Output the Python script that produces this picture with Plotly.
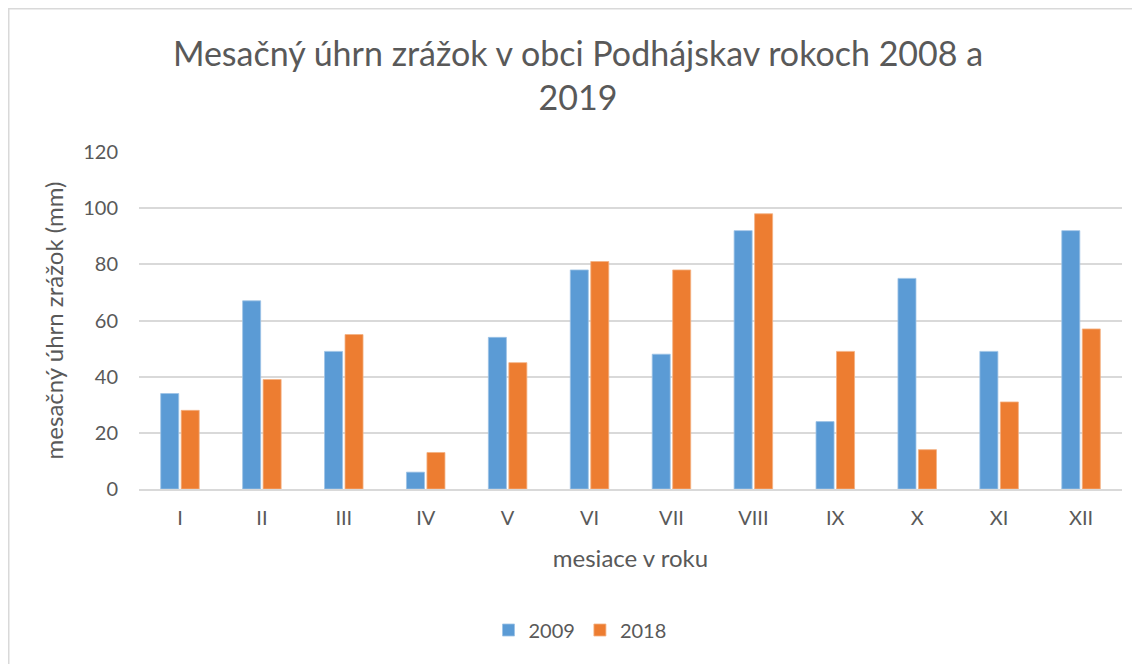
# Monthly precipitation in Podhájska, grouped bar chart

import plotly.graph_objects as go

months = ['I', 'II', 'III', 'IV', 'V', 'VI', 'VII', 'VIII', 'IX', 'X', 'XI', 'XII']
rain_2009 = [34, 67, 49, 6, 54, 78, 48, 92, 24, 75, 49, 92]
rain_2018 = [28, 39, 55, 13, 45, 81, 78, 98, 49, 14, 31, 57]
y_ticks = [0, 20, 40, 60, 80, 100, 120]

font = 'Lato'
text_col = '#595959'

# plot area in figure pixels (the page adds an 8px body margin)
left, right, top, bottom = 131, 1114, 144, 481
pw, ph = right - left, bottom - top

fig = go.Figure()
fig.add_trace(go.Bar(x=months, y=rain_2009, name='2009',
                     marker=dict(color='#5B9BD5', line=dict(color='#9DC3E6', width=0.8))))
fig.add_trace(go.Bar(x=months, y=rain_2018, name='2018',
                     marker=dict(color='#ED7D31', line=dict(color='#F4B183', width=0.8))))

fig.update_layout(
    width=1140, height=664,
    margin=dict(l=left, r=1140 - right, t=top, b=664 - bottom),
    paper_bgcolor='white', plot_bgcolor='white',
    font=dict(family=font, color=text_col, size=20),
    barmode='group', bargap=0.5, bargroupgap=0.12,
    title=dict(text='Mesačný úhrn zrážok v obci Podhájskav rokoch 2008 a<br>2019',
               x=0.5, xanchor='center', y=1 - 57.5 / 664, yanchor='middle',
               yref='container', font=dict(size=34, color=text_col, family=font)),
    legend=dict(orientation='h', x=(572 - left) / pw, xanchor='center',
                y=(bottom - 622) / ph, yanchor='middle',
                font=dict(size=20), itemwidth=30, traceorder='normal'),
    xaxis=dict(showgrid=False, showline=True, linecolor='#D9D9D9', linewidth=1.5,
               ticks='', tickfont=dict(size=20), ticklabelstandoff=10,
               title=dict(text='mesiace v roku', font=dict(size=24), standoff=22)),
    yaxis=dict(range=[0, 120], tickvals=y_ticks, showgrid=True, gridcolor='#D9D9D9',
               gridwidth=1.5, zeroline=False, ticks='', tickfont=dict(size=20),
               ticklabelstandoff=20,
               title=dict(text='mesačný úhrn zrážok (mm)', font=dict(size=24), standoff=12)),
)

# light chart-area border like the original
fig.add_shape(type='rect', xref='paper', yref='paper',
              x0=(0.75 - left) / pw, x1=1.06, y0=-0.6, y1=(bottom - 0.75) / ph,
              line=dict(color='#D9D9D9', width=1.5), layer='below')

fig.write_html('out.html')
